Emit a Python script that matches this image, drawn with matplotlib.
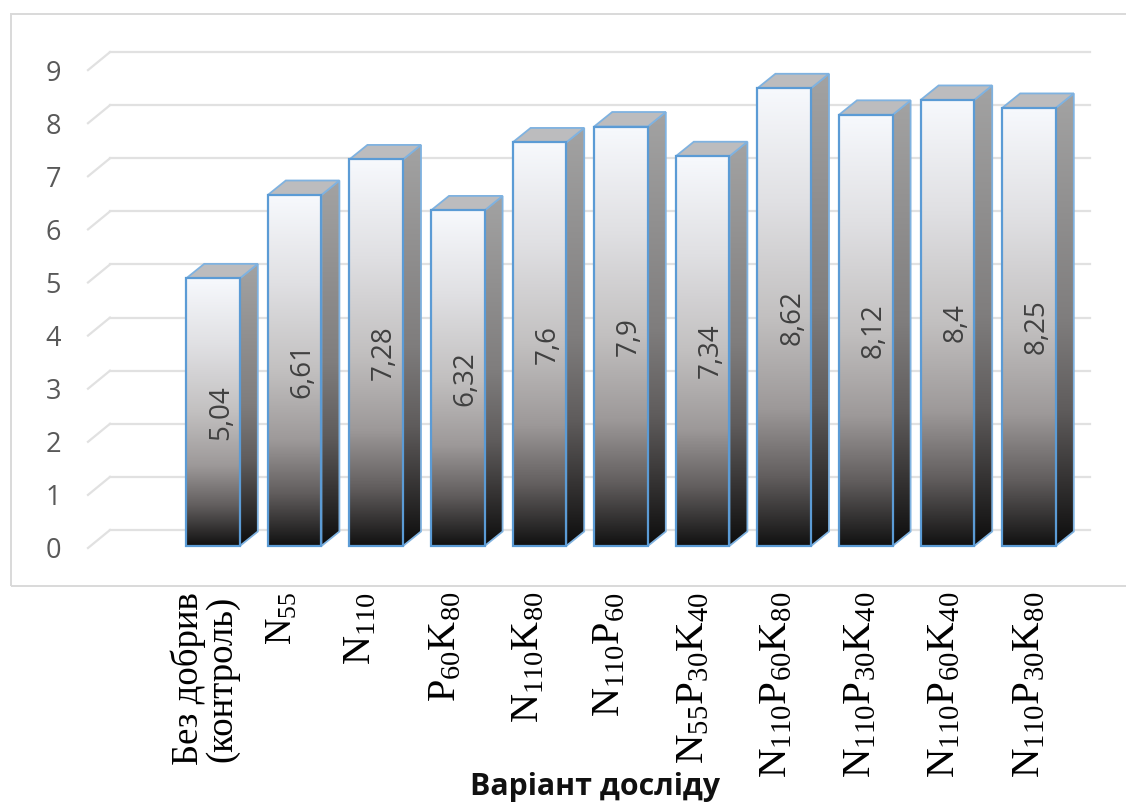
import numpy as np
import matplotlib
matplotlib.use("Agg")
import matplotlib.pyplot as plt
from matplotlib.colors import LinearSegmentedColormap
from matplotlib.patches import Polygon, Rectangle
from matplotlib.transforms import Affine2D

plt.rcParams['mathtext.fontset'] = 'custom'
plt.rcParams['mathtext.rm'] = 'Liberation Serif'
plt.rcParams['mathtext.default'] = 'rm'

categories = ["Без добрив\n(контроль)", r"$N_{55}$", r"$N_{110}$", r"$P_{60}K_{80}$",
              r"$N_{110}K_{80}$", r"$N_{110}P_{60}$", r"$N_{55}P_{30}K_{40}$",
              r"$N_{110}P_{60}K_{80}$", r"$N_{110}P_{30}K_{40}$",
              r"$N_{110}P_{60}K_{40}$", r"$N_{110}P_{30}K_{80}$"]
values = [5.04, 6.61, 7.28, 6.32, 7.6, 7.9, 7.34, 8.62, 8.12, 8.4, 8.25]
value_labels = ["5,04", "6,61", "7,28", "6,32", "7,6", "7,9", "7,34", "8,62", "8,12", "8,4", "8,25"]
y_ticks = list(range(10))
label_shift = [-8, -12, -15, -12, -11, -11, -9, -7, -5, -3, 1]
label_sizes = [26.5, 26.5, 29, 29, 29, 29, 29.5, 29.5, 29.5, 29.5, 29.5]

W, H = 1126, 805
fig = plt.figure(figsize=(W / 100, H / 100), dpi=100, facecolor='white')
L, R, T, B = 88, 1090, 68, 546
ax = fig.add_axes([L / W, 1 - B / H, (R - L) / W, (B - T) / H])
sx, sy = 81.6, 53.1
ax.set_xlim((L - 213) / sx, (R - 213) / sx)
ax.set_ylim(0, (B - T) / sy)
ax.patch.set_alpha(0)
for s in ax.spines.values():
    s.set_visible(False)

# outer frame runs off the right edge of the picture
fig.add_artist(Rectangle((11 / W, 1 - 586 / H), (W + 20 - 11) / W, (586 - 14) / H,
                         transform=fig.transFigure, fill=False, ec='#d9d9d9', lw=1.4))

dep_x, dep_y = 18 / sx, 14.5 / sy
half = 26.8 / sx
grid_c = '#e1e1e1'
back_x0 = (110 - 213) / sx
back_x1 = (1090 - 213) / sx
front_x0 = (88 - 213) / sx
for v in y_ticks:
    ax.plot([front_x0, back_x0], [v - 2 / sy, v + 16 / sy], color=grid_c, lw=1.6, clip_on=False, zorder=1)
    ax.plot([back_x0, back_x1], [v + 16 / sy, v + 16 / sy], color=grid_c, lw=1.6, clip_on=False, zorder=1)

front_cmap = LinearSegmentedColormap.from_list('f', [(0, '#f7f9fd'), (0.25, '#e0e0e3'), (0.5, '#c2c0c0'),
                                                     (0.7, '#9d9999'), (0.85, '#625e5e'), (1, '#111111')])
side_cmap = LinearSegmentedColormap.from_list('s', [(0, '#a3a3a3'), (0.5, '#7f7d7d'), (0.7, '#5f5c5c'),
                                                    (0.85, '#363434'), (1, '#0c0c0c')])
grad = np.linspace(0, 1, 256).reshape(-1, 1)
blue = '#5b9bd5'
blue2 = '#7fb2e0'

for i, (v, lab) in enumerate(zip(values, value_labels)):
    x0, x1 = i - half, i + half
    # side
    side = Polygon([(x1, 0), (x1 + dep_x, dep_y), (x1 + dep_x, v + dep_y), (x1, v)], closed=True,
                   fc='none', ec=blue2, lw=1.3, zorder=3, clip_on=False)
    ax.add_patch(side)
    im = ax.imshow(grad, extent=(x1, x1 + dep_x, 0, v + dep_y), cmap=side_cmap, aspect='auto',
                   origin='upper', zorder=2.5, clip_on=True)
    clip = Polygon(side.get_xy(), closed=True, transform=ax.transData)
    im.set_clip_path(clip)
    # top
    ax.add_patch(Polygon([(x0, v), (x1, v), (x1 + dep_x, v + dep_y), (x0 + dep_x, v + dep_y)], closed=True,
                         fc='#bcbcbe', ec=blue2, lw=1.3, zorder=3, clip_on=False))
    # front
    ax.imshow(grad, extent=(x0, x1, 0, v), cmap=front_cmap, aspect='auto', origin='upper', zorder=3.5)
    ax.add_patch(Rectangle((x0, 0), x1 - x0, v, fill=False, ec=blue, lw=1.6, zorder=4, clip_on=False))
    ax.annotate(lab, xy=(i, v / 2), xytext=(8, 0), textcoords='offset pixels', rotation=90,
                ha='center', va='center', fontsize=20, color='#404040', family='Open Sans', zorder=5)

ax.set_xlim((L - 213) / sx, (R - 213) / sx)
ax.set_ylim(0, (B - T) / sy)

ax.set_yticks(y_ticks)
ax.set_yticklabels([str(t) for t in y_ticks], family='Open Sans', fontsize=19.5, color='#595959')
ax.tick_params(axis='y', length=0, pad=(88 - 61) * 0.72)
for lbl in ax.get_yticklabels():
    lbl.set_transform(lbl.get_transform() + Affine2D().translate(0, -2))
ax.set_xticks(range(len(categories)))
ax.set_xticklabels(categories, rotation=90, family='Liberation Serif', color='black', va='top', ha='center',
                   linespacing=0.95)
ax.tick_params(axis='x', length=0, pad=(592 - 546) * 0.72)
for lbl, dx, fs in zip(ax.get_xticklabels(), label_shift, label_sizes):
    lbl.set_fontsize(fs)
    lbl.set_transform(lbl.get_transform() + Affine2D().translate(dx, 0))

fig.text(595 / W, 1 - 787 / H, "Варіант досліду", family='Open Sans', fontweight='bold', fontsize=21.8,
         color='#111111', ha='center', va='center')

fig.savefig('out.png', dpi=100, facecolor='white')
